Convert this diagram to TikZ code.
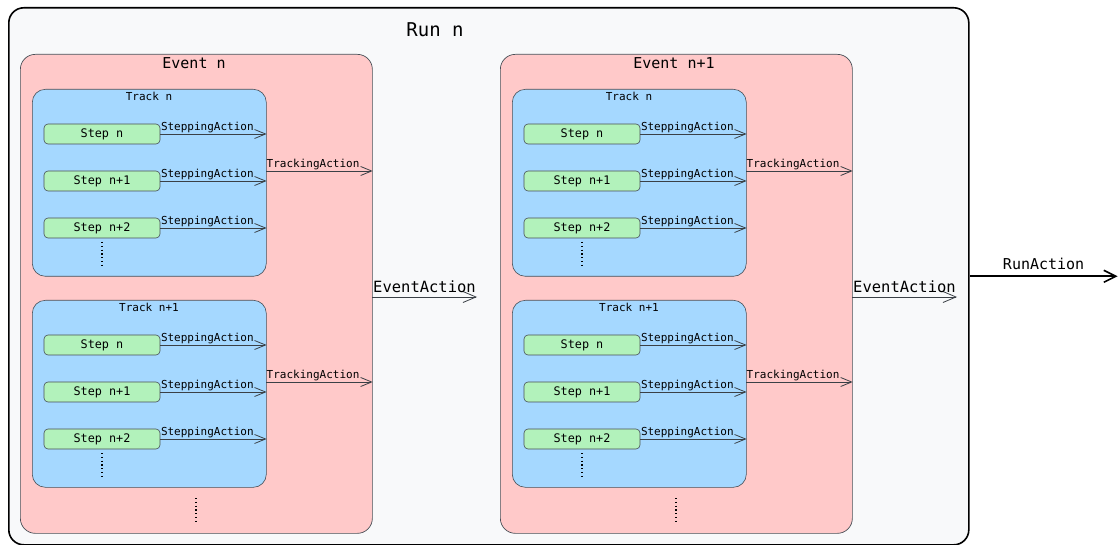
\documentclass[tikz,border=0pt]{standalone}
\usepackage{fontspec}
\setmainfont{DejaVu Sans Mono}
\usetikzlibrary{arrows.meta}
\definecolor{runfill}{HTML}{F8F9FA}
\definecolor{evfill}{HTML}{FFC9C9}
\definecolor{trfill}{HTML}{A5D8FF}
\definecolor{stfill}{HTML}{B2F2BB}
\definecolor{edge}{HTML}{495057}
\tikzset{
  runbox/.style={draw=black, fill=runfill, line width=1.6pt, rounded corners=15pt, anchor=north west},
  eventbox/.style={draw=edge, fill=evfill, line width=0.7pt, rounded corners=15pt, anchor=north west},
  trackbox/.style={draw=edge, fill=trfill, line width=0.6pt, rounded corners=13pt, anchor=north west},
  stepbox/.style={draw=edge, fill=stfill, line width=0.6pt, rounded corners=4pt, minimum width=116pt, minimum height=20pt, font=\fontsize{11.8}{11}\selectfont},
  act/.style={draw=edge!80!black, line width=0.8pt, -{Straight Barb[length=11pt,width=9pt]}},
  actlabel/.style={anchor=south west, inner sep=0.5pt, font=\fontsize{11}{10}\selectfont},
  more/.style={line width=1.2pt, dash pattern=on 1.2pt off 2.6pt}
}
\begin{document}
\begin{tikzpicture}[x=1pt,y=-1pt]
  \useasboundingbox (0,0) rectangle (1120,545);
  \node[runbox, minimum width=960pt, minimum height=537pt] (run) at (8,7) {};
  \node[font=\fontsize{19}{19}\selectfont] (runtitle) at (435,30) {Run n};
  \foreach \e/\ex/\elab in {1/0/n, 2/480/n+1} {
    \node[eventbox, minimum width=352pt, minimum height=479pt] (ev\e) at (20+\ex,54) {};
    \node[font=\fontsize{15}{15}\selectfont] (evtitle\e) at (194+\ex,63) {Event \elab};
    \foreach \t/\ty/\tlab in {1/89/n, 2/300/n+1} {
      \node[trackbox, minimum width=234pt, minimum height=187pt] (tr\e\t) at (32+\ex,\ty) {};
      \node[font=\fontsize{11}{10}\selectfont] (trtitle\e\t) at (149+\ex,\ty+7) {Track \tlab};
      \foreach \s/\sy/\slab in {1/45/n, 2/92/n+1, 3/139/n+2} {
        \node[stepbox] (st\e\t\s) at (102+\ex,\ty+\sy) {Step \slab};
        \draw[act] (st\e\t\s.east) -- (st\e\t\s.east -| tr\e\t.east);
        \node[actlabel] (sa\e\t\s) at (st\e\t\s.east) {SteppingAction};
      }
      \draw[more] (102+\ex,\ty+153) -- (102+\ex,\ty+176);
      \coordinate (ta\e\t) at (266+\ex,\ty+82);
      \draw[act] (ta\e\t) -- (ta\e\t -| ev\e.east);
      \node[actlabel] (tal\e\t) at (ta\e\t) {TrackingAction};
    }
    \draw[more] (196+\ex,498) -- (196+\ex,522);
    \coordinate (ea\e) at (372+\ex,297);
    \draw[act, -{Straight Barb[length=13pt,width=11pt]}] (ea\e) -- ++(105,0)
      node[midway, above, inner sep=4pt, text=black, font=\fontsize{15.5}{15}\selectfont] {EventAction};
  }
  \draw[line width=1.6pt, -{Straight Barb[length=12pt,width=12pt]}] (run.east) -- ++(148,0)
    node[midway, above, inner sep=6pt, font=\fontsize{15}{15}\selectfont] {RunAction};
\end{tikzpicture}
\end{document}
